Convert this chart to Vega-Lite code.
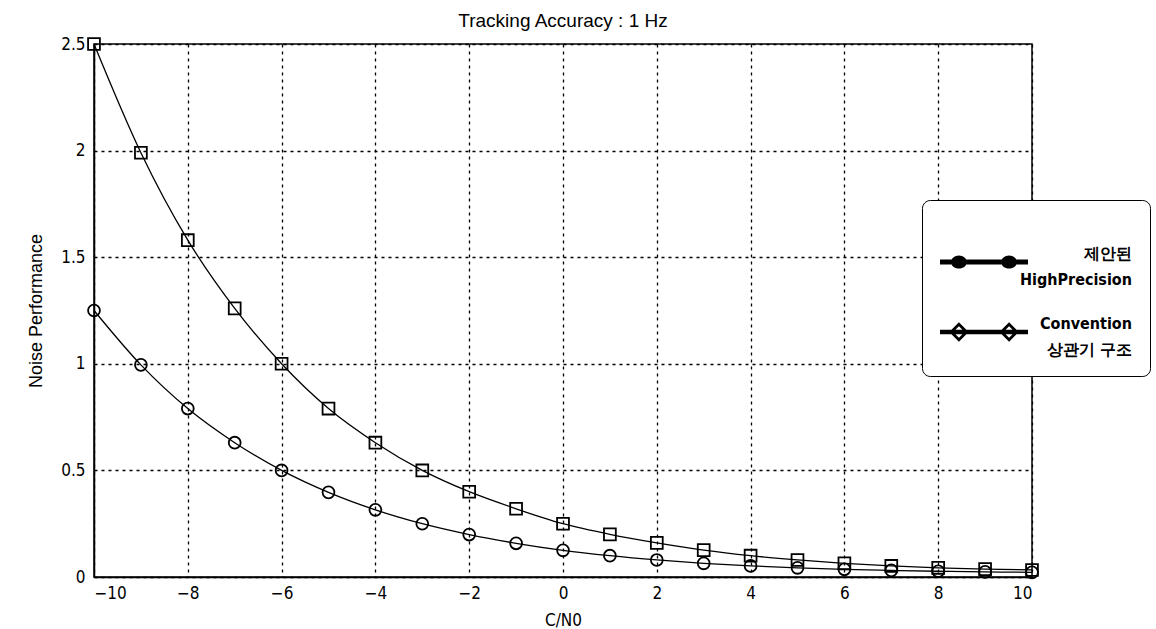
{
  "$schema": "https://vega.github.io/schema/vega-lite/v6.json",
  "width": 938,
  "height": 533,
  "autosize": {"type": "none"},
  "padding": {"left": 94, "top": 44, "right": 124, "bottom": 52},
  "background": "white",
  "title": {"text": "Tracking Accuracy : 1 Hz", "fontSize": 19, "fontWeight": "normal", "font": "Liberation Sans", "color": "black", "offset": 3},
  "config": {
    "view": {"stroke": "black", "strokeWidth": 1.5},
    "style": {"guide-label": {"lineHeight": 26}},
    "axis": {
      "domainColor": "black", "domainWidth": 1.5,
      "gridColor": "black", "gridOpacity": 1, "gridDash": [3, 4], "gridWidth": 1.3,
      "tickSize": 0,
      "labelFont": "DejaVu Sans Condensed, Liberation Sans, sans-serif", "labelFontSize": 17, "labelColor": "black",
      "titleFont": "Liberation Sans", "titleFontWeight": "normal", "titleColor": "black"
    }
  },
  "data": {"values": [
    {"x": -10, "y": 2.5, "series": "B"}, {"x": -9, "y": 1.99, "series": "B"}, {"x": -8, "y": 1.58, "series": "B"}, {"x": -7, "y": 1.26, "series": "B"}, {"x": -6, "y": 1.0, "series": "B"}, {"x": -5, "y": 0.79, "series": "B"}, {"x": -4, "y": 0.63, "series": "B"}, {"x": -3, "y": 0.5, "series": "B"}, {"x": -2, "y": 0.4, "series": "B"}, {"x": -1, "y": 0.32, "series": "B"}, {"x": 0, "y": 0.25, "series": "B"}, {"x": 1, "y": 0.2, "series": "B"}, {"x": 2, "y": 0.16, "series": "B"}, {"x": 3, "y": 0.126, "series": "B"}, {"x": 4, "y": 0.1, "series": "B"}, {"x": 5, "y": 0.08, "series": "B"}, {"x": 6, "y": 0.064, "series": "B"}, {"x": 7, "y": 0.052, "series": "B"}, {"x": 8, "y": 0.043, "series": "B"}, {"x": 9, "y": 0.037, "series": "B"}, {"x": 10, "y": 0.033, "series": "B"},
    {"x": -10, "y": 1.25, "series": "A"}, {"x": -9, "y": 0.995, "series": "A"}, {"x": -8, "y": 0.79, "series": "A"}, {"x": -7, "y": 0.63, "series": "A"}, {"x": -6, "y": 0.5, "series": "A"}, {"x": -5, "y": 0.397, "series": "A"}, {"x": -4, "y": 0.315, "series": "A"}, {"x": -3, "y": 0.25, "series": "A"}, {"x": -2, "y": 0.199, "series": "A"}, {"x": -1, "y": 0.158, "series": "A"}, {"x": 0, "y": 0.125, "series": "A"}, {"x": 1, "y": 0.1, "series": "A"}, {"x": 2, "y": 0.08, "series": "A"}, {"x": 3, "y": 0.064, "series": "A"}, {"x": 4, "y": 0.052, "series": "A"}, {"x": 5, "y": 0.043, "series": "A"}, {"x": 6, "y": 0.036, "series": "A"}, {"x": 7, "y": 0.031, "series": "A"}, {"x": 8, "y": 0.027, "series": "A"}, {"x": 9, "y": 0.024, "series": "A"}, {"x": 10, "y": 0.022, "series": "A"}
  ]},
  "encoding": {
    "x": {"field": "x", "type": "quantitative", "scale": {"domain": [-10, 10], "nice": false},
      "axis": {"values": [-10, -8, -6, -4, -2, 0, 2, 4, 6, 8, 10], "title": "C/N0", "titleFont": "DejaVu Sans Condensed, Liberation Sans, sans-serif", "titleFontSize": 17, "titlePadding": 11, "labelPadding": 8}},
    "y": {"field": "y", "type": "quantitative", "scale": {"domain": [0, 2.5], "nice": false},
      "axis": {"values": [0, 0.5, 1, 1.5, 2, 2.5], "format": "~g", "title": "Noise Performance", "titleFontSize": 18, "titlePadding": 15, "labelPadding": 9}}
  },
  "resolve": {"scale": {"shape": "independent"}, "legend": {"shape": "independent"}},
  "layer": [
    {
      "mark": {"type": "line", "interpolate": "monotone", "color": "black", "strokeWidth": 1.3},
      "encoding": {"detail": {"field": "series"}}
    },
    {
      "mark": {"type": "point", "filled": true, "color": "black", "opacity": 0, "size": 7744},
      "encoding": {
        "shape": {"field": "series", "type": "nominal",
          "scale": {"domain": ["A", "B"], "range": [
            "M-1,-0.055H1V0.055H-1Z M-0.75,0A0.18,0.15 0 1,1 -0.39,0A0.18,0.15 0 1,1 -0.75,0Z M0.39,0A0.18,0.15 0 1,1 0.75,0A0.18,0.15 0 1,1 0.39,0Z",
            "M-1,-0.05H1V0.05H-1Z M-0.79,0L-0.57,-0.22L-0.35,0L-0.57,0.22Z M-0.7,0L-0.57,0.13L-0.44,0L-0.57,-0.13Z M0.35,0L0.57,-0.22L0.79,0L0.57,0.22Z M0.44,0L0.57,0.13L0.7,0L0.57,-0.13Z"
          ]},
          "legend": {
            "title": null, "orient": "none", "legendX": 828, "legendY": 156,
            "padding": 18, "rowPadding": 0,
            "strokeColor": "black", "fillColor": "white", "cornerRadius": 8,
            "symbolSize": 7744, "symbolOpacity": 1, "symbolFillColor": "black", "symbolStrokeWidth": 0,
            "labelFont": "DejaVu Sans Condensed, Liberation Sans, sans-serif", "labelFontSize": 16, "labelFontWeight": "bold", "labelColor": "black",
            "labelAlign": "right", "labelBaseline": "bottom", "labelOffset": 104, "labelLimit": 300,
            "labelExpr": "datum.value === 'A' ? ['제안된', 'HighPrecision'] : ['Convention', '상관기 구조']",
            "encode": {
              "legend": {"update": {"strokeDash": {"value": [1, 2]}, "strokeWidth": {"value": 1.5}}}
            }
          }}
      }
    },
    {
      "mark": {"type": "point", "filled": false, "color": "black", "strokeWidth": 1.8, "size": 140, "opacity": 1},
      "encoding": {
        "shape": {"field": "series", "type": "nominal",
          "scale": {"domain": ["A", "B"], "range": ["circle", "square"]},
          "legend": null}
      }
    }
  ]
}
